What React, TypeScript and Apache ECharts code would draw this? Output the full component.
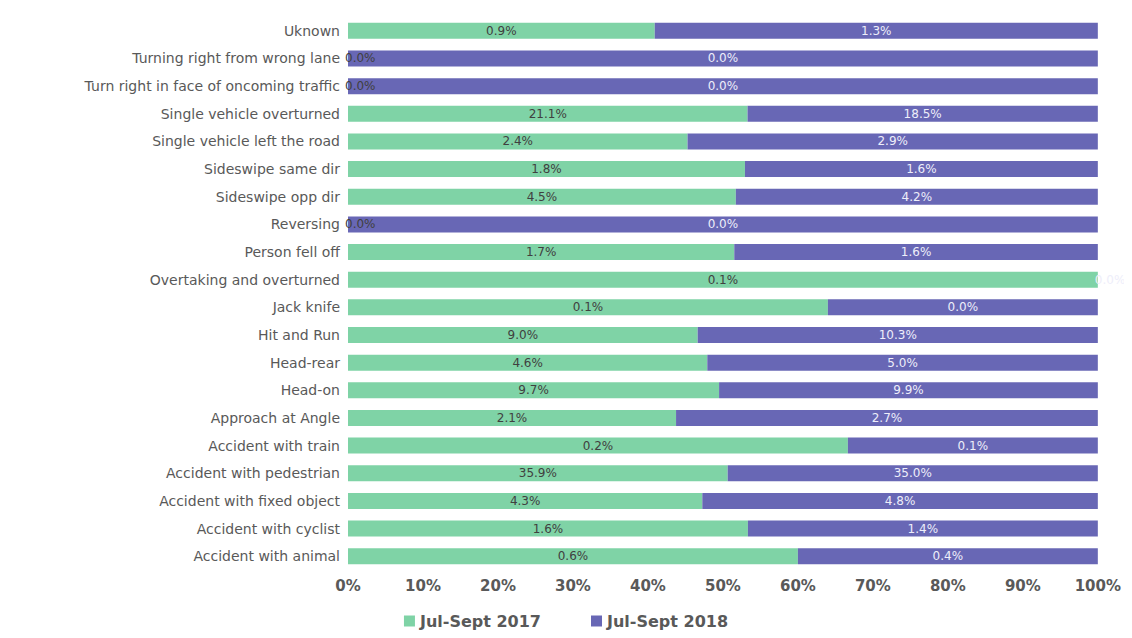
import React, { useEffect, useRef } from "react";
import * as echarts from "echarts";

// Accident types, listed top to bottom
const categories = [
  "Uknown",
  "Turning right from wrong lane",
  "Turn right in face of oncoming traffic",
  "Single vehicle overturned",
  "Single vehicle left the road",
  "Sideswipe same dir",
  "Sideswipe opp dir",
  "Reversing",
  "Person fell off",
  "Overtaking and overturned",
  "Jack knife",
  "Hit and Run",
  "Head-rear",
  "Head-on",
  "Approach at Angle",
  "Accident with train",
  "Accident with pedestrian",
  "Accident with fixed object",
  "Accident with cyclist",
  "Accident with animal",
];

// Share of all accidents in each quarter (%)
const jul2017 = [0.9, 0, 0, 21.1, 2.4, 1.8, 4.5, 0, 1.7, 0.1, 0.08, 9.0, 4.6, 9.7, 2.1, 0.2, 35.9, 4.3, 1.6, 0.6];
const jul2018 = [1.3, 0.02, 0.02, 18.5, 2.9, 1.6, 4.2, 0.03, 1.6, 0, 0.045, 10.3, 5.0, 9.9, 2.7, 0.1, 35.0, 4.8, 1.4, 0.4];

const xTicks = [0, 10, 20, 30, 40, 50, 60, 70, 80, 90, 100];
const seriesNames = ["Jul-Sept 2017", "Jul-Sept 2018"];

const GREEN = "#7fd3a6";
const PURPLE = "#6867b5";
const FONT = "DejaVu Sans";

export default function App() {
  const ref = useRef<HTMLDivElement>(null);

  useEffect(() => {
    if (!ref.current) return;
    const chart = echarts.init(ref.current, undefined, { renderer: "svg" });

    // 100% stacking: each bar's length is its share of the row total;
    // a zero-length segment keeps its label just inside the bar's left end
    const share = (a: number[], b: number[]) =>
      a.map((v, i) => {
        const t = v + b[i];
        const item: any = { value: t > 0 ? (v / t) * 100 : 0, raw: v };
        if (item.value === 0) item.label = { position: "insideLeft", offset: [-8, 0] };
        return item;
      });

    const labelFmt = (p: any) => `${p.data.raw.toFixed(1)}%`;

    chart.setOption({
      animation: false,
      backgroundColor: "#ffffff",
      grid: { left: 340, right: 26, top: 9, height: 553, containLabel: false },
      legend: {
        bottom: 4,
        left: "center",
        itemWidth: 11,
        itemHeight: 11,
        itemGap: 50,
        icon: "rect",
        textStyle: { color: "#595959", fontSize: 16, fontFamily: FONT, fontWeight: "bold" },
        data: seriesNames,
      },
      xAxis: {
        type: "value",
        min: 0,
        max: 100,
        interval: 10,
        axisLine: { show: false },
        axisTick: { show: false },
        splitLine: { show: false },
        axisLabel: {
          margin: 8,
          color: "#595959",
          fontSize: 15,
          fontWeight: "bold",
          fontFamily: FONT,
          formatter: (v: number) => (xTicks.includes(v) ? `${v}%` : ""),
        },
      },
      yAxis: {
        type: "category",
        inverse: true,
        data: categories,
        axisLine: { show: false },
        axisTick: { show: false },
        axisLabel: { margin: 8, color: "#595959", fontSize: 14, fontFamily: FONT },
      },
      series: [
        {
          name: seriesNames[0],
          type: "bar",
          stack: "total",
          barWidth: 16,
          itemStyle: { color: GREEN },
          label: {
            show: true,
            position: "inside",
            formatter: labelFmt,
            color: "#404040",
            fontSize: 12,
            fontFamily: FONT,
          },
          data: share(jul2017, jul2018),
        },
        {
          name: seriesNames[1],
          type: "bar",
          stack: "total",
          barWidth: 16,
          itemStyle: { color: PURPLE },
          label: {
            show: true,
            position: "inside",
            formatter: labelFmt,
            color: "#eeeefa",
            fontSize: 12,
            fontFamily: FONT,
          },
          data: share(jul2018, jul2017),
        },
      ],
    });

    return () => chart.dispose();
  }, []);

  return <div ref={ref} style={{ width: 1116, height: 630 }} />;
}
